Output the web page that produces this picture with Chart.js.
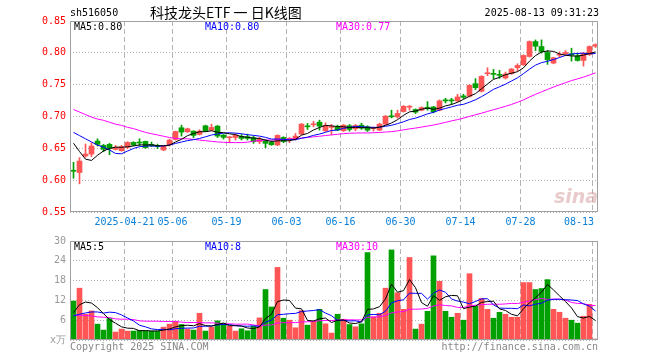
<!DOCTYPE html>
<html><head><meta charset="utf-8">
<script src="https://cdn.jsdelivr.net/npm/chart.js@4.4.1/dist/chart.umd.min.js"></script>
<style>
html,body{margin:0;padding:0;background:#fff;}
#wrap{position:relative;width:660px;height:360px;overflow:hidden;background:#fff;}
#c1{position:absolute;left:0;top:0;}
#c2{position:absolute;left:0;top:230px;}
</style></head><body>
<div id="wrap"><canvas id="c1" width="660" height="232"></canvas><canvas id="c2" width="660" height="130"></canvas></div>
<script>
const stockCode = 'sh516050';
const chartTitle = '科技龙头ETF 一 日K线图';
const stamp = '2025-08-13 09:31:23';
const copyText = 'Copyright 2025 SINA.COM';
const urlText = 'http://finance.sina.com.cn';
const volUnit = 'x万';

const dates = ['04-08','04-09','04-10','04-11','04-14','04-15','04-16','04-17','04-18','04-21','04-22','04-23','04-24','04-25','04-28','04-29','04-30',
'05-06','05-07','05-08','05-09','05-12','05-13','05-14','05-15','05-16','05-19','05-20','05-21','05-22','05-23','05-26','05-27','05-28','05-29','05-30',
'06-03','06-04','06-05','06-06','06-09','06-10','06-11','06-12','06-13','06-16','06-17','06-18','06-19','06-20','06-23','06-24','06-25','06-26','06-27','06-30',
'07-01','07-02','07-03','07-04','07-07','07-08','07-09','07-10','07-11','07-14','07-15','07-16','07-17','07-18','07-21','07-22','07-23','07-24','07-25','07-28','07-29','07-30','07-31',
'08-01','08-04','08-05','08-06','08-07','08-08','08-11','08-12','08-13'];
const tickLabels = ['2025-04-21','05-06','05-19','06-03','06-16','06-30','07-14','07-28','08-13'];
const priceTicks = [0.55,0.60,0.65,0.70,0.75,0.80,0.85];
const volTicks = [0,6,12,18,24,30];

const opens = [0.6150,0.612,0.638,0.641,0.6614,0.6546,0.6562,0.6484,0.6463,0.6515,
0.6593,0.6593,0.6609,0.6562,0.6536,0.6474,0.6557,0.664,0.6823,0.676,
0.677,0.6718,0.6854,0.6786,0.6849,0.6708,0.6666,0.667,0.669,0.6682,
0.6666,0.6604,0.662,0.6593,0.6552,0.6671,0.664,0.665,0.6723,0.6849,
0.687,0.6911,0.6776,0.6828,0.6838,0.6776,0.6854,0.6807,0.6864,0.6838,
0.6812,0.6786,0.688,0.7005,0.6995,0.7078,0.7146,0.711,0.7099,0.714,
0.715,0.7099,0.7255,0.7255,0.7245,0.7323,0.7318,0.7516,0.7396,0.7672,
0.7672,0.7656,0.7604,0.7672,0.7766,0.7812,0.7943,0.8177,0.8099,0.8005,
0.7839,0.7964,0.7984,0.7984,0.7953,0.788,0.7974,0.8104];
const closes = [0.6140,0.630,0.641,0.6536,0.6562,0.6484,0.650,0.6515,0.6526,0.6593,
0.6552,0.6583,0.651,0.6541,0.6526,0.6536,0.663,0.6765,0.6755,0.6807,
0.6703,0.677,0.677,0.6828,0.6692,0.6672,0.6677,0.6705,0.6656,0.6656,
0.6604,0.6646,0.6578,0.6557,0.6703,0.6609,0.665,0.6692,0.688,0.6838,
0.688,0.6849,0.6859,0.6838,0.6786,0.6864,0.6797,0.6859,0.6817,0.6786,
0.6823,0.688,0.7005,0.6995,0.7047,0.7161,0.7156,0.7068,0.714,0.713,
0.7073,0.7245,0.7245,0.7245,0.7307,0.7302,0.749,0.7453,0.763,0.7682,
0.7662,0.7646,0.7667,0.7745,0.7802,0.7958,0.8177,0.8104,0.8021,0.7891,
0.7922,0.7974,0.8005,0.7964,0.788,0.7995,0.8099,0.813];
const highs = [0.628,0.6354,0.6567,0.6588,0.665,0.6562,0.6578,0.6546,0.6546,0.6604,
0.6604,0.665,0.6614,0.6598,0.6567,0.6546,0.6645,0.677,0.6864,0.6817,
0.6776,0.6792,0.6864,0.688,0.6859,0.6718,0.6682,0.6729,0.6718,0.6723,
0.6692,0.6671,0.664,0.6614,0.6713,0.6682,0.6671,0.6734,0.6891,0.6891,
0.6922,0.6943,0.6901,0.6875,0.6864,0.6875,0.6875,0.6875,0.6896,0.6854,
0.6838,0.6896,0.7016,0.7099,0.7099,0.7172,0.7172,0.712,0.7151,0.7234,
0.716,0.726,0.7286,0.7286,0.7349,0.7349,0.75,0.7594,0.7641,0.7766,
0.774,0.7724,0.7698,0.7755,0.7828,0.7969,0.8188,0.8203,0.8203,0.8036,
0.7932,0.8016,0.8036,0.8073,0.7995,0.8005,0.811,0.8141];
const lows = [0.603,0.5942,0.636,0.637,0.6536,0.6447,0.640,0.6474,0.6453,0.6494,
0.6541,0.6536,0.650,0.6526,0.6494,0.6463,0.6536,0.663,0.6692,0.675,
0.6666,0.6708,0.6765,0.6776,0.6671,0.6645,0.6588,0.663,0.663,0.663,
0.6578,0.6572,0.651,0.6546,0.6541,0.6588,0.6588,0.663,0.6713,0.6797,
0.6838,0.6786,0.6765,0.6713,0.6776,0.6765,0.677,0.6776,0.6797,0.6765,
0.677,0.6776,0.687,0.6979,0.6974,0.7068,0.7099,0.7047,0.7089,0.7099,
0.7057,0.7089,0.7213,0.7193,0.7229,0.7281,0.7307,0.7422,0.7385,0.7641,
0.7594,0.76,0.7589,0.7662,0.7714,0.7802,0.7932,0.8036,0.7995,0.7818,
0.7828,0.7932,0.7964,0.787,0.787,0.7792,0.7958,0.8083];
const ma5 = [0.658,0.645,0.633,0.631,0.6391,0.6458,0.6498,0.6519,0.6517,0.6524,
0.6537,0.6554,0.6553,0.6556,0.6542,0.6539,0.6549,0.660,0.6642,0.6699,
0.6732,0.676,0.6761,0.6776,0.6753,0.6746,0.6728,0.6716,0.6682,0.6675,
0.6661,0.6655,0.6628,0.6608,0.6618,0.6619,0.6619,0.6642,0.6707,0.6734,
0.6788,0.6828,0.6861,0.6853,0.6842,0.6839,0.6829,0.6829,0.6825,0.6825,
0.6816,0.6833,0.6862,0.6898,0.695,0.7018,0.7073,0.7085,0.7114,0.7131,
0.7113,0.7131,0.7167,0.7188,0.7223,0.7269,0.7318,0.7359,0.7436,0.7511,
0.7583,0.7615,0.7657,0.768,0.7704,0.7764,0.787,0.7957,0.8012,0.803,
0.8023,0.7982,0.7963,0.7951,0.7949,0.7964,0.7989,0.8014];
const ma10 = [0.675,0.670,0.665,0.660,0.655,0.6519,0.6474,0.642,0.6414,0.6457,
0.6498,0.6526,0.6536,0.6537,0.6533,0.6538,0.6552,0.6577,0.6599,0.6621,
0.6636,0.6655,0.6681,0.6709,0.6726,0.6739,0.6744,0.6739,0.6729,0.6714,
0.6704,0.6692,0.6672,0.6645,0.6647,0.664,0.6637,0.6635,0.6658,0.6676,
0.6704,0.6724,0.6752,0.678,0.6788,0.6814,0.6829,0.6845,0.6839,0.6834,
0.6828,0.6831,0.6846,0.6862,0.6888,0.6917,0.6953,0.6974,0.7006,0.7041,
0.7066,0.7102,0.7126,0.7151,0.7177,0.7191,0.7225,0.7263,0.7312,0.7367,
0.7426,0.7467,0.7508,0.7558,0.7608,0.7674,0.7743,0.7807,0.7846,0.7867,
0.7894,0.7926,0.796,0.7982,0.799,0.7994,0.7986,0.7989];
const ma30 = [0.711,0.707,0.703,0.699,0.696,0.694,0.691,0.688,0.686,0.683,
0.681,0.678,0.675,0.673,0.671,0.669,0.667,0.6655,0.665,0.665,
0.664,0.663,0.662,0.661,0.660,0.6595,0.659,0.659,0.659,0.6597,
0.6612,0.6624,0.663,0.663,0.6635,0.6639,0.6644,0.665,0.6662,0.667,
0.6681,0.669,0.6701,0.6711,0.672,0.6731,0.6737,0.674,0.6742,0.6741,
0.6745,0.6749,0.6756,0.6762,0.6774,0.679,0.6806,0.6818,0.6834,0.685,
0.6866,0.6886,0.6908,0.6931,0.6951,0.6974,0.7002,0.7027,0.7052,0.708,
0.7106,0.7133,0.716,0.719,0.7224,0.7261,0.7307,0.7348,0.7388,0.7425,
0.7462,0.7498,0.7531,0.7564,0.7591,0.7619,0.7651,0.7686];
const vols = [11.8,15.7,7.8,8.8,4.8,3.0,6.5,2.4,3.3,2.7,
2.7,2.9,2.7,2.7,2.7,3.9,4.8,5.7,4.7,3.3,
3.0,8.1,2.7,3.9,5.8,5.1,4.2,2.7,3.4,2.8,
4.2,6.7,15.3,10.0,22.0,6.6,6.0,3.7,8.9,4.5,
5.7,9.3,4.9,2.1,7.8,6.3,4.7,4.0,4.9,26.5,
7.0,8.1,15.7,27.3,14.3,9.3,25.0,3.3,4.8,8.7,
25.5,17.8,8.7,6.9,8.1,6.0,20.1,10.2,12.6,9.3,
6.6,8.4,7.8,6.9,6.9,17.4,17.4,15.3,15.6,18.3,
9.3,8.4,6.6,6.0,5.1,7.2,10.8,0.3];
const vma5 = [8.3,10.7,11.5,11.2,9.78,8.02,6.18,5.1,4.0,3.58,
3.52,2.8,2.86,2.74,2.74,2.98,3.36,3.96,4.36,4.48,
4.3,4.96,4.36,4.2,4.7,5.12,4.34,4.34,4.24,3.64,
3.46,3.96,6.48,7.8,11.64,12.12,11.98,9.66,9.44,5.94,
5.76,6.42,6.66,5.3,5.96,6.08,5.16,4.98,5.54,9.28,
9.42,10.1,12.44,16.92,14.48,14.94,18.32,15.84,11.34,10.22,
13.46,12.02,13.1,13.52,13.4,9.5,9.96,10.26,11.4,11.64,
11.76,9.42,8.94,7.8,7.32,9.48,11.28,12.78,14.52,16.8,
15.18,13.38,11.64,9.72,7.08,6.66,7.14,5.88];
const vma10 = [7.3,7.8,8.2,8.5,8.5,8.16,8.44,8.3,7.6,6.68,
5.77,4.49,3.98,3.37,3.16,3.25,3.08,3.41,3.55,3.61,
3.64,4.16,4.16,4.28,4.59,4.71,4.65,4.35,4.22,4.17,
4.29,4.15,5.41,6.02,7.64,7.79,7.97,8.07,8.62,8.79,
8.94,9.2,8.16,7.37,5.95,5.92,5.79,5.82,5.42,7.62,
7.75,7.63,8.71,11.23,11.88,12.18,14.21,14.14,14.13,12.35,
14.2,15.17,14.47,12.43,11.81,11.48,10.99,11.68,12.46,12.52,
10.63,9.69,9.6,9.6,9.48,10.62,10.35,10.86,11.16,12.06,
12.33,12.33,12.21,12.12,11.94,10.92,10.26,8.76];
const vma30 = [7.5,7.5,7.4,7.3,7.0,6.9,6.8,6.4,6.3,6.3,
6.2,5.8,5.7,5.7,5.7,5.6,5.6,5.6,5.4,5.3,
5.3,5.3,5.2,5.2,5.1,4.9,4.9,4.8,4.8,4.82,
4.57,4.27,4.52,4.56,5.13,5.25,5.23,5.28,5.46,5.52,
5.62,5.84,5.91,5.89,6.06,6.14,6.14,6.08,6.09,6.86,
6.99,6.99,7.43,8.21,8.49,8.63,9.32,9.34,9.39,9.59,
10.3,10.67,10.45,10.34,9.88,9.86,10.33,10.55,10.67,10.83,
10.86,10.83,10.93,11.09,11.06,11.43,11.85,12.23,12.58,12.31,
12.39,12.4,12.09,11.38,11.08,11.01,10.53,10.43];

const mono = '"DejaVu Sans Mono", "Liberation Mono", monospace';
const UP = '#ff5555', DOWN = '#00a000', GRID = '#b4b4b4', FRAME = '#a0a0a0';
const C_MA5 = '#000000', C_MA10 = '#0000ff', C_MA30 = '#ff00ff';
const n = dates.length;
const col = closes.map((c, i) => c >= opens[i] ? UP : DOWN);
const pts = arr => arr.map((v, i) => ({x: i, y: v}));
const tickIdx = tickLabels.map(t => dates.indexOf(t.slice(-5)));

function xAxis() {
  return {
    type: 'linear', min: -0.5 - 1/12, max: n - 0.5 - 1/12, offset: false,
    afterBuildTicks: s => { s.ticks = tickIdx.map(i => ({value: i - 0.5})); },
    ticks: {display: false},
    grid: {color: GRID, lineWidth: 1, drawTicks: false, offset: false},
    border: {display: false, dash: [5, 3]}
  };
}
function yAxis(min, max, ticks, color, fmt) {
  return {
    type: 'linear', position: 'left', min, max,
    afterBuildTicks: s => { s.ticks = ticks.map(v => ({value: v})); },
    afterFit: s => { s.width = 70; },
    ticks: {color, font: {family: mono, size: 10}, padding: 4, callback: fmt, autoSkip: false},
    grid: {color: GRID, lineWidth: 1, drawTicks: false},
    border: {display: false, dash: [1, 2]}
  };
}
function line(data, color) {
  return {type: 'line', data: pts(data), borderColor: color, borderWidth: 1, pointRadius: 0, tension: 0, order: 0};
}
function frame(ctx, a) {
  ctx.strokeStyle = FRAME; ctx.lineWidth = 1;
  ctx.strokeRect(a.left + 0.5, a.top + 0.5, a.right - a.left - 1, a.bottom - a.top - 1);
}
function legend(ctx, a, y, items) {
  ctx.font = '10px ' + mono; ctx.textAlign = 'left'; ctx.textBaseline = 'middle';
  const xs = [a.left + 4, a.left + 135, a.left + 266];
  items.forEach((it, k) => { ctx.fillStyle = it[1]; ctx.fillText(it[0], xs[k], y); });
}

const priceDeco = {
  id: 'priceDeco',
  afterDraw(chart) {
    const {ctx, chartArea: a, scales: {x}} = chart;
    ctx.save();
    frame(ctx, a);
    ctx.textBaseline = 'middle';
    ctx.fillStyle = '#000'; ctx.font = '10px ' + mono; ctx.textAlign = 'left';
    ctx.fillText(stockCode, a.left, 13);
    ctx.font = '14px "Noto Sans CJK SC"';
    ctx.fillText(chartTitle, 150, 13);
    ctx.font = '10px ' + mono; ctx.textAlign = 'right';
    ctx.fillText(stamp, a.right + 1, 13);
    legend(ctx, a, a.top + 6, [
      ['MA5:' + ma5[n - 1].toFixed(2), C_MA5],
      ['MA10:' + ma10[n - 1].toFixed(2), C_MA10],
      ['MA30:' + ma30[n - 1].toFixed(2), C_MA30]]);
    ctx.font = '10px ' + mono; ctx.fillStyle = '#0a80d8'; ctx.textAlign = 'center';
    tickIdx.forEach((ti, k) => {
      const lab = tickLabels[k];
      const w = ctx.measureText(lab).width;
      let px = x.getPixelForValue(ti - 0.5);
      if (px + w / 2 > a.right - 4) px = a.right - 4 - w / 2;
      ctx.fillText(lab, px, a.bottom + 10);
    });
    ctx.font = 'italic bold 19px "DejaVu Sans"'; ctx.fillStyle = 'rgba(215,160,160,0.55)';
    ctx.fillText('sina', a.right - 22, a.bottom - 14);
    ctx.restore();
  }
};
const volDeco = {
  id: 'volDeco',
  afterDraw(chart) {
    const {ctx, chartArea: a} = chart;
    ctx.save();
    frame(ctx, a);
    legend(ctx, a, a.top + 6, [
      ['MA5:' + Math.floor(vma5[n - 1]), C_MA5],
      ['MA10:' + Math.floor(vma10[n - 1]), C_MA10],
      ['MA30:' + Math.floor(vma30[n - 1]), C_MA30]]);
    ctx.font = '10px ' + mono; ctx.fillStyle = '#888'; ctx.textBaseline = 'middle';
    ctx.textAlign = 'left'; ctx.fillText(copyText, a.left, a.bottom + 7);
    ctx.textAlign = 'right'; ctx.fillText(urlText, a.right, a.bottom + 7);
    ctx.restore();
  }
};

const common = {
  responsive: false, animation: false, events: [],
  plugins: {legend: {display: false}, tooltip: {enabled: false}},
};

new Chart(document.getElementById('c1'), {
  type: 'bar',
  data: {datasets: [
    line(ma5, C_MA5), line(ma10, C_MA10), line(ma30, C_MA30),
    {type: 'bar', data: opens.map((o, i) => ({x: i, y: [o, closes[i]]})), backgroundColor: col,
     barThickness: 5, minBarLength: 1, grouped: false, order: 1},
    {type: 'bar', data: lows.map((l, i) => ({x: i, y: [l, highs[i]]})), backgroundColor: col,
     barThickness: 1, grouped: false, order: 2}
  ]},
  options: Object.assign({}, common, {
    layout: {padding: {left: 0, right: 62, top: 21, bottom: 20}},
    scales: {x: xAxis(), y: yAxis(priceTicks[0], priceTicks[priceTicks.length - 1], priceTicks, '#ff0000', v => v.toFixed(2))}
  }),
  plugins: [priceDeco]
});

new Chart(document.getElementById('c2'), {
  type: 'bar',
  data: {datasets: [
    line(vma5, C_MA5), line(vma10, C_MA10), line(vma30, C_MA30),
    {type: 'bar', data: pts(vols), backgroundColor: col, barThickness: 5, grouped: false, order: 1}
  ]},
  options: Object.assign({}, common, {
    layout: {padding: {left: 0, right: 62, top: 11, bottom: 20}},
    scales: {x: xAxis(), y: yAxis(volTicks[0], volTicks[volTicks.length - 1], volTicks, '#999', v => v === 0 ? volUnit : String(v))}
  }),
  plugins: [volDeco]
});
</script>
</body></html>
